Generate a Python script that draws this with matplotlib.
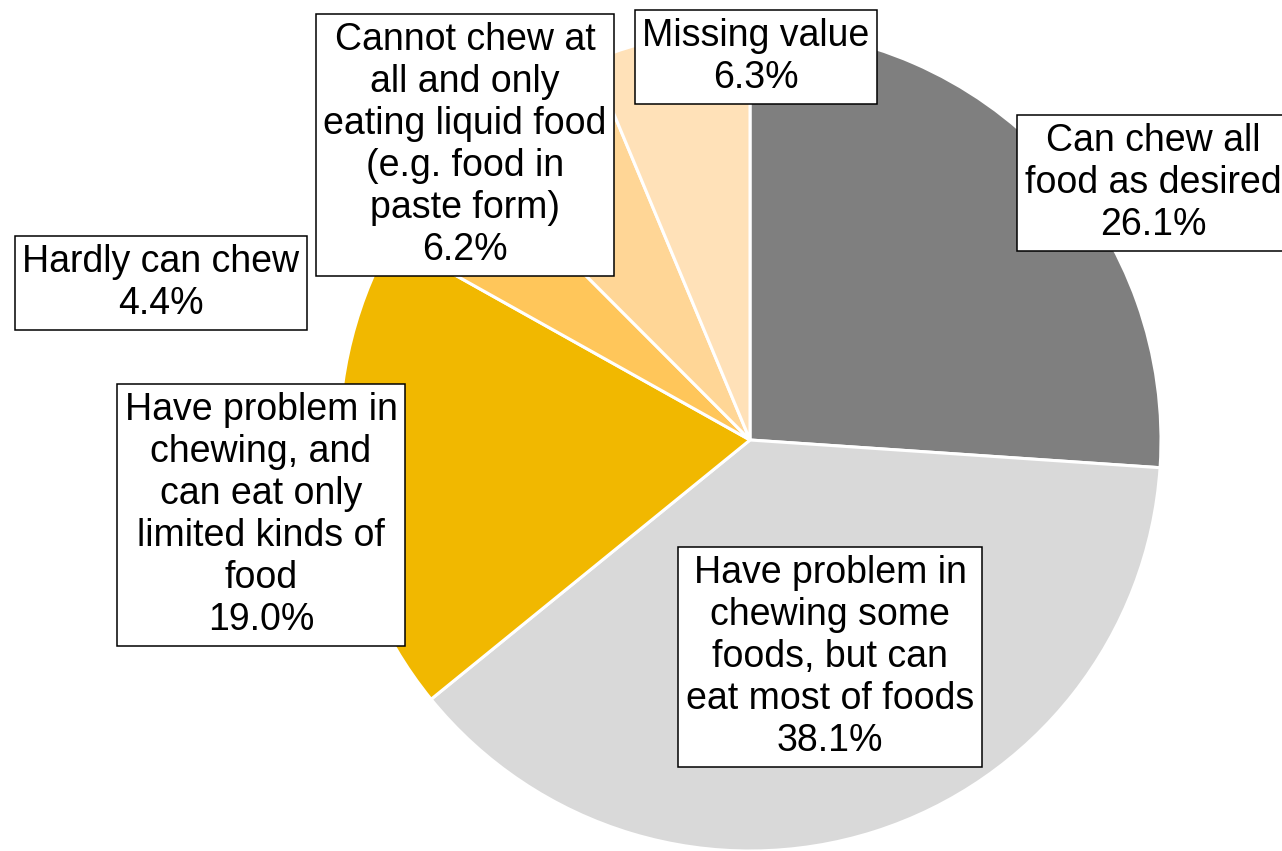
import matplotlib.pyplot as plt

plt.rcParams['font.family'] = ['Liberation Sans', 'DejaVu Sans']

labels = ['Can chew all\nfood as desired',
          'Have problem in\nchewing some\nfoods, but can\neat most of foods',
          'Have problem in\nchewing, and\ncan eat only\nlimited kinds of\nfood',
          'Hardly can chew',
          'Cannot chew at\nall and only\neating liquid food\n(e.g. food in\npaste form)',
          'Missing value']
values = [26.1, 38.1, 19.0, 4.4, 6.2, 6.3]
colors = ['#7f7f7f', '#d9d9d9', '#f1b800', '#ffc65a', '#ffd696', '#ffe1b8']
# label box centres in pixel coords (from top-left)
label_pos = [(1153, 183), (830, 657), (261, 515), (161, 283), (465, 145), (756, 57)]

W, H = 1282, 851
fig = plt.figure(figsize=(W / 100, H / 100), dpi=100)
ax = fig.add_axes([0, 0, 1, 1])

ax.pie(values, colors=colors, startangle=90, counterclock=False,
       center=(750, H - 440), radius=411,
       wedgeprops=dict(edgecolor='white', linewidth=2.2))

for lab, v, (x, y) in zip(labels, values, label_pos):
    ax.text(x, H - y, f'{lab}\n{v:.1f}%', ha='center', va='center',
            fontsize=27, linespacing=1.22,
            bbox=dict(boxstyle='square,pad=0.2', facecolor='white',
                      edgecolor='black', linewidth=1.1))

ax.set_xlim(0, W)
ax.set_ylim(0, H)
ax.set_aspect('equal')
ax.axis('off')

fig.savefig('out.png', dpi=100)
